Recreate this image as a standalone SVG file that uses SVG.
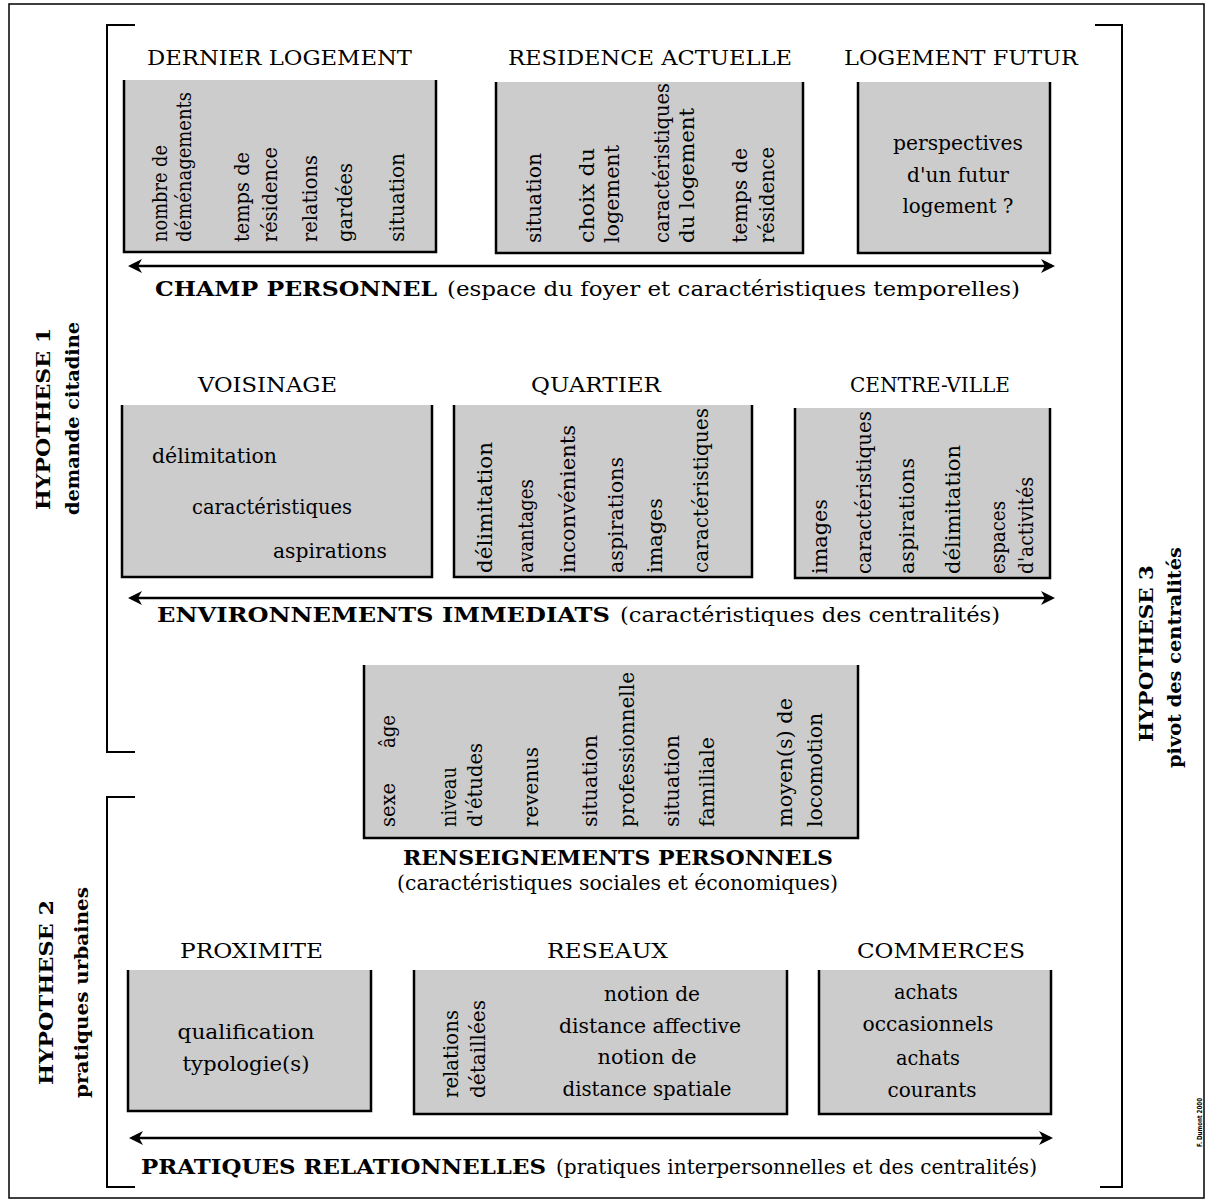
<svg xmlns="http://www.w3.org/2000/svg" width="1211" height="1202" viewBox="0 0 1211 1202">
<defs>
<style>
.bg{fill:#fff}
.box{fill:#cccccc}
.u{fill:none;stroke:#000;stroke-width:2.5}
.br{fill:none;stroke:#000;stroke-width:2}
.t{font-family:"DejaVu Serif","Liberation Serif",serif;font-size:21px;fill:#000}
.v{font-family:"DejaVu Serif","Liberation Serif",serif;font-size:20px;fill:#000}
.p{font-family:"DejaVu Serif","Liberation Serif",serif;font-size:20px;fill:#000}
.b{font-family:"DejaVu Serif","Liberation Serif",serif;font-size:20px;font-weight:bold;fill:#000}
.h{font-family:"DejaVu Serif","Liberation Serif",serif;font-size:19px;font-weight:bold;fill:#000}
.c{text-anchor:middle}
.ar{fill:none;stroke:#000;stroke-width:2.5}
</style>
<marker id="ah" viewBox="0 0 14 14" refX="11" refY="7" markerWidth="14" markerHeight="14" markerUnits="userSpaceOnUse" orient="auto-start-reverse">
<path d="M0,0 L14,7 L0,14 L4,7 Z" fill="#000"/>
</marker>
</defs>
<rect class="bg" x="0" y="0" width="1211" height="1202"/>
<rect x="9" y="4" width="1195" height="1194" fill="none" stroke="#000" stroke-width="1.5"/>

<g id="brackets">
<path class="br" d="M135,25 H107 V752 H135"/>
<path class="br" d="M135,797 H107 V1187 H135"/>
<path class="br" d="M1095,25 H1122 V1187 H1100"/>
</g>

<g id="hypothese1">
<text class="h" transform="translate(50,510) rotate(-90)" textLength="182" lengthAdjust="spacingAndGlyphs">HYPOTHESE 1</text>
<text class="h" transform="translate(79,515) rotate(-90)" textLength="193" lengthAdjust="spacingAndGlyphs">demande citadine</text>
</g>
<g id="hypothese2">
<text class="h" transform="translate(53,1085) rotate(-90)" textLength="185" lengthAdjust="spacingAndGlyphs">HYPOTHESE 2</text>
<text class="h" transform="translate(88,1098) rotate(-90)" textLength="211" lengthAdjust="spacingAndGlyphs">pratiques urbaines</text>
</g>
<g id="hypothese3">
<text class="h" transform="translate(1153,742) rotate(-90)" textLength="177" lengthAdjust="spacingAndGlyphs">HYPOTHESE 3</text>
<text class="h" transform="translate(1181,768) rotate(-90)" textLength="221" lengthAdjust="spacingAndGlyphs">pivot des centralités</text>
</g>

<g id="dernier-logement">
<text class="t" x="147" y="65" textLength="265" lengthAdjust="spacingAndGlyphs">DERNIER LOGEMENT</text>
<rect class="box" x="124" y="80" width="312" height="172"/>
<path class="u" d="M124,80 V252 H436 V80"/>
<text class="v" transform="translate(167,242) rotate(-90)" textLength="97" lengthAdjust="spacingAndGlyphs">nombre de</text>
<text class="v" transform="translate(191,242) rotate(-90)" textLength="150" lengthAdjust="spacingAndGlyphs">déménagements</text>
<text class="v" transform="translate(249,242) rotate(-90)" textLength="90" lengthAdjust="spacingAndGlyphs">temps de</text>
<text class="v" transform="translate(277,242) rotate(-90)" textLength="95" lengthAdjust="spacingAndGlyphs">résidence</text>
<text class="v" transform="translate(317,242) rotate(-90)" textLength="87" lengthAdjust="spacingAndGlyphs">relations</text>
<text class="v" transform="translate(352,242) rotate(-90)" textLength="79" lengthAdjust="spacingAndGlyphs">gardées</text>
<text class="v" transform="translate(404,242) rotate(-90)" textLength="89" lengthAdjust="spacingAndGlyphs">situation</text>
</g>

<g id="residence-actuelle">
<text class="t" x="508" y="65" textLength="284" lengthAdjust="spacingAndGlyphs">RESIDENCE ACTUELLE</text>
<rect class="box" x="496" y="82" width="307" height="171"/>
<path class="u" d="M496,82 V253 H803 V82"/>
<text class="v" transform="translate(541,243) rotate(-90)" textLength="90" lengthAdjust="spacingAndGlyphs">situation</text>
<text class="v" transform="translate(594,243) rotate(-90)" textLength="95" lengthAdjust="spacingAndGlyphs">choix du</text>
<text class="v" transform="translate(619,243) rotate(-90)" textLength="98" lengthAdjust="spacingAndGlyphs">logement</text>
<text class="v" transform="translate(669,243) rotate(-90)" textLength="160" lengthAdjust="spacingAndGlyphs">caractéristiques</text>
<text class="v" transform="translate(694,243) rotate(-90)" textLength="135" lengthAdjust="spacingAndGlyphs">du logement</text>
<text class="v" transform="translate(747,243) rotate(-90)" textLength="95" lengthAdjust="spacingAndGlyphs">temps de</text>
<text class="v" transform="translate(774,243) rotate(-90)" textLength="96" lengthAdjust="spacingAndGlyphs">résidence</text>
</g>

<g id="logement-futur">
<text class="t" x="844" y="65" textLength="234" lengthAdjust="spacingAndGlyphs">LOGEMENT FUTUR</text>
<rect class="box" x="858" y="82" width="192" height="171"/>
<path class="u" d="M858,82 V253 H1050 V82"/>
<text class="v c" x="958" y="150" textLength="130" lengthAdjust="spacingAndGlyphs">perspectives</text>
<text class="v c" x="958" y="182" textLength="102" lengthAdjust="spacingAndGlyphs">d'un futur</text>
<text class="v c" x="958" y="213" textLength="111" lengthAdjust="spacingAndGlyphs">logement ?</text>
</g>

<g id="voisinage">
<text class="t" x="198" y="392" textLength="139" lengthAdjust="spacingAndGlyphs">VOISINAGE</text>
<rect class="box" x="122" y="405" width="310" height="172"/>
<path class="u" d="M122,405 V577 H432 V405"/>
<text class="v" x="152" y="463" textLength="125" lengthAdjust="spacingAndGlyphs">délimitation</text>
<text class="v" x="192" y="514" textLength="160" lengthAdjust="spacingAndGlyphs">caractéristiques</text>
<text class="v" x="273" y="558" textLength="114" lengthAdjust="spacingAndGlyphs">aspirations</text>
</g>

<g id="quartier">
<text class="t" x="531" y="392" textLength="130" lengthAdjust="spacingAndGlyphs">QUARTIER</text>
<rect class="box" x="454" y="405" width="298" height="172"/>
<path class="u" d="M454,405 V577 H752 V405"/>
<text class="v" transform="translate(492,573) rotate(-90)" textLength="131" lengthAdjust="spacingAndGlyphs">délimitation</text>
<text class="v" transform="translate(533,573) rotate(-90)" textLength="94" lengthAdjust="spacingAndGlyphs">avantages</text>
<text class="v" transform="translate(575,573) rotate(-90)" textLength="148" lengthAdjust="spacingAndGlyphs">inconvénients</text>
<text class="v" transform="translate(623,573) rotate(-90)" textLength="116" lengthAdjust="spacingAndGlyphs">aspirations</text>
<text class="v" transform="translate(662,573) rotate(-90)" textLength="75" lengthAdjust="spacingAndGlyphs">images</text>
<text class="v" transform="translate(708,573) rotate(-90)" textLength="165" lengthAdjust="spacingAndGlyphs">caractéristiques</text>
</g>

<g id="centre-ville">
<text class="t" x="850" y="392" textLength="160" lengthAdjust="spacingAndGlyphs">CENTRE-VILLE</text>
<rect class="box" x="795" y="408" width="255" height="170"/>
<path class="u" d="M795,408 V578 H1050 V408"/>
<text class="v" transform="translate(827,574) rotate(-90)" textLength="75" lengthAdjust="spacingAndGlyphs">images</text>
<text class="v" transform="translate(871,574) rotate(-90)" textLength="163" lengthAdjust="spacingAndGlyphs">caractéristiques</text>
<text class="v" transform="translate(914,574) rotate(-90)" textLength="116" lengthAdjust="spacingAndGlyphs">aspirations</text>
<text class="v" transform="translate(960,574) rotate(-90)" textLength="129" lengthAdjust="spacingAndGlyphs">délimitation</text>
<text class="v" transform="translate(1005,574) rotate(-90)" textLength="73" lengthAdjust="spacingAndGlyphs">espaces</text>
<text class="v" transform="translate(1033,574) rotate(-90)" textLength="97" lengthAdjust="spacingAndGlyphs">d'activités</text>
</g>

<g id="renseignements-personnels">
<rect class="box" x="364" y="665" width="494" height="173"/>
<path class="u" d="M364,665 V838 H858 V665"/>
<text class="v" transform="translate(395,827) rotate(-90)" textLength="44" lengthAdjust="spacingAndGlyphs">sexe</text>
<text class="v" transform="translate(395,748) rotate(-90)" textLength="33" lengthAdjust="spacingAndGlyphs">âge</text>
<text class="v" transform="translate(456,827) rotate(-90)" textLength="60" lengthAdjust="spacingAndGlyphs">niveau</text>
<text class="v" transform="translate(482,827) rotate(-90)" textLength="84" lengthAdjust="spacingAndGlyphs">d'études</text>
<text class="v" transform="translate(538,827) rotate(-90)" textLength="80" lengthAdjust="spacingAndGlyphs">revenus</text>
<text class="v" transform="translate(597,827) rotate(-90)" textLength="92" lengthAdjust="spacingAndGlyphs">situation</text>
<text class="v" transform="translate(634,827) rotate(-90)" textLength="155" lengthAdjust="spacingAndGlyphs">professionnelle</text>
<text class="v" transform="translate(679,827) rotate(-90)" textLength="92" lengthAdjust="spacingAndGlyphs">situation</text>
<text class="v" transform="translate(714,827) rotate(-90)" textLength="90" lengthAdjust="spacingAndGlyphs">familiale</text>
<text class="v" transform="translate(792,827) rotate(-90)" textLength="129" lengthAdjust="spacingAndGlyphs">moyen(s) de</text>
<text class="v" transform="translate(822,827) rotate(-90)" textLength="114" lengthAdjust="spacingAndGlyphs">locomotion</text>
<text class="b" x="403" y="865" textLength="430" lengthAdjust="spacingAndGlyphs">RENSEIGNEMENTS PERSONNELS</text>
<text class="p" x="397" y="890" textLength="441" lengthAdjust="spacingAndGlyphs">(caractéristiques sociales et économiques)</text>
</g>

<g id="proximite">
<text class="t" x="180" y="958" textLength="143" lengthAdjust="spacingAndGlyphs">PROXIMITE</text>
<rect class="box" x="128" y="970" width="243" height="141"/>
<path class="u" d="M128,970 V1111 H371 V970"/>
<text class="v c" x="246" y="1039" textLength="137" lengthAdjust="spacingAndGlyphs">qualification</text>
<text class="v c" x="246" y="1071" textLength="127" lengthAdjust="spacingAndGlyphs">typologie(s)</text>
</g>

<g id="reseaux">
<text class="t" x="547" y="958" textLength="121" lengthAdjust="spacingAndGlyphs">RESEAUX</text>
<rect class="box" x="414" y="970" width="373" height="144"/>
<path class="u" d="M414,970 V1114 H787 V970"/>
<text class="v" transform="translate(458,1098) rotate(-90)" textLength="88" lengthAdjust="spacingAndGlyphs">relations</text>
<text class="v" transform="translate(485,1098) rotate(-90)" textLength="98" lengthAdjust="spacingAndGlyphs">détaillées</text>
<text class="v c" x="652" y="1001" textLength="96" lengthAdjust="spacingAndGlyphs">notion de</text>
<text class="v c" x="650" y="1033" textLength="182" lengthAdjust="spacingAndGlyphs">distance affective</text>
<text class="v c" x="647" y="1064" textLength="99" lengthAdjust="spacingAndGlyphs">notion de</text>
<text class="v c" x="647" y="1096" textLength="169" lengthAdjust="spacingAndGlyphs">distance spatiale</text>
</g>

<g id="commerces">
<text class="t" x="857" y="958" textLength="168" lengthAdjust="spacingAndGlyphs">COMMERCES</text>
<rect class="box" x="819" y="970" width="232" height="144"/>
<path class="u" d="M819,970 V1114 H1051 V970"/>
<text class="v c" x="926" y="999" textLength="64" lengthAdjust="spacingAndGlyphs">achats</text>
<text class="v c" x="928" y="1031" textLength="131" lengthAdjust="spacingAndGlyphs">occasionnels</text>
<text class="v c" x="928" y="1065" textLength="64" lengthAdjust="spacingAndGlyphs">achats</text>
<text class="v c" x="932" y="1097" textLength="89" lengthAdjust="spacingAndGlyphs">courants</text>
</g>

<g id="connectors">
<line class="ar" x1="131" y1="266" x2="1052" y2="266" marker-start="url(#ah)" marker-end="url(#ah)"/>
<line class="ar" x1="131" y1="598" x2="1052" y2="598" marker-start="url(#ah)" marker-end="url(#ah)"/>
<line class="ar" x1="132" y1="1138" x2="1050" y2="1138" marker-start="url(#ah)" marker-end="url(#ah)"/>
</g>

<g id="axis-labels">
<text class="b" x="155" y="296" textLength="282" lengthAdjust="spacingAndGlyphs">CHAMP PERSONNEL</text>
<text class="p" x="447" y="296" textLength="573" lengthAdjust="spacingAndGlyphs">(espace du foyer et caractéristiques temporelles)</text>
<text class="b" x="157" y="622" textLength="453" lengthAdjust="spacingAndGlyphs">ENVIRONNEMENTS IMMEDIATS</text>
<text class="p" x="620" y="622" textLength="380" lengthAdjust="spacingAndGlyphs">(caractéristiques des centralités)</text>
<text class="b" x="141" y="1174" textLength="405" lengthAdjust="spacingAndGlyphs">PRATIQUES RELATIONNELLES</text>
<text class="p" x="556" y="1174" textLength="481" lengthAdjust="spacingAndGlyphs">(pratiques interpersonnelles et des centralités)</text>
</g>

<text transform="translate(1202,1147) rotate(-90)" font-family="DejaVu Sans, sans-serif" font-size="7" font-weight="bold" textLength="49" lengthAdjust="spacingAndGlyphs">F. Dumont 2000</text>
</svg>
